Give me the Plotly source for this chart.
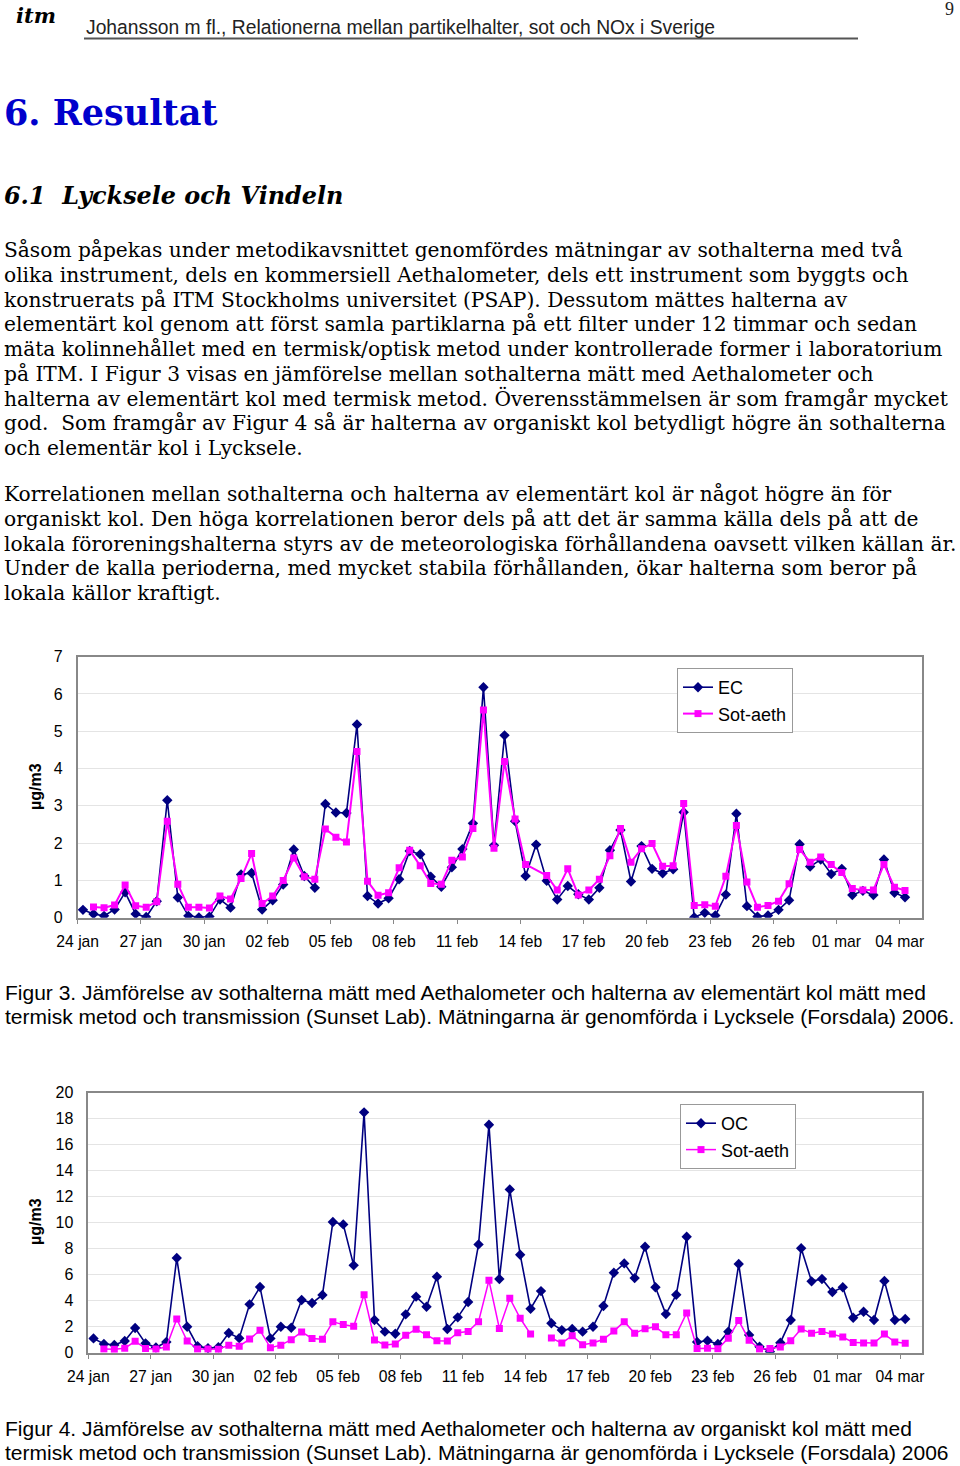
import pandas as pd
import plotly.graph_objects as go

W, H = 960, 1466

# 12-hour samples, 24 jan 06:00 .. 04 mar 06:00 2006
times = pd.date_range("2006-01-24 06:00", periods=79, freq="12h")

ec = [0.21, 0.10, 0.05, 0.22, 0.68, 0.10, 0.02, 0.44, 3.15, 0.54,
      0.05, 0.01, 0.03, 0.49, 0.27, 1.16, 1.20, 0.22, 0.47, 0.89,
      1.83, 1.12, 0.80, 3.05, 2.82, 2.81, 5.18, 0.58, 0.38, 0.52,
      1.03, 1.79, 1.70, 1.10, 0.83, 1.35, 1.84, 2.53, 6.18, 1.94,
      4.89, 2.59, 1.12, 1.96, 0.99, 0.49, 0.85, 0.63, 0.49, 0.80,
      1.81, 2.35, 0.97, 1.92, 1.31, 1.19, 1.30, 2.83, 0.01, 0.13,
      0.06, 0.62, 2.79, 0.31, 0.03, 0.06, 0.21, 0.47, 1.97, 1.37,
      1.56, 1.17, 1.31, 0.61, 0.72, 0.61, 1.56, 0.67, 0.55]

sot_aeth = [None, 0.29, 0.27, 0.34, 0.88, 0.32, 0.28, 0.43, 2.59, 0.90,
            0.28, 0.28, 0.26, 0.58, 0.50, 1.05, 1.72, 0.38, 0.58, 1.00,
            1.60, 1.10, 1.03, 2.38, 2.16, 2.03, 4.46, 0.98, 0.60, 0.67,
            1.34, 1.81, 1.39, 0.92, 0.90, 1.54, 1.63, 2.39, 5.57, 1.86,
            4.19, 2.65, 1.43, None, 1.13, 0.74, 1.31, 0.61, 0.74, 1.03,
            1.66, 2.39, 1.49, 1.85, 1.99, 1.38, 1.39, 3.06, 0.33, 0.35,
            0.31, 1.11, 2.47, 0.96, 0.28, 0.33, 0.44, 0.91, 1.83, 1.49,
            1.63, 1.43, 1.21, 0.78, 0.74, 0.74, 1.43, 0.82, 0.73]

oc = [1.10, 0.67, 0.60, 0.90, 1.90, 0.72, 0.40, 0.82, 7.28, 2.00,
      0.50, 0.35, 0.42, 1.52, 1.12, 3.72, 5.05, 1.10, 2.00, 1.92,
      4.05, 3.82, 4.44, 10.05, 9.87, 6.72, 18.49, 2.51, 1.62, 1.46,
      2.95, 4.31, 3.54, 5.85, 1.82, 2.72, 3.90, 8.33, 17.54, 5.67,
      12.56, 7.54, 3.38, 4.74, 2.26, 1.74, 1.82, 1.62, 2.00, 3.59,
      6.15, 6.87, 5.74, 8.15, 5.03, 2.97, 4.46, 8.92, 0.82, 0.92,
      0.67, 1.62, 6.82, 1.36, 0.46, 0.08, 0.77, 2.51, 8.03, 5.49,
      5.67, 4.67, 5.03, 2.69, 3.15, 2.51, 5.51, 2.51, 2.59]

tick_dates = ["2006-01-24", "2006-01-27", "2006-01-30", "2006-02-02", "2006-02-05",
              "2006-02-08", "2006-02-11", "2006-02-14", "2006-02-17", "2006-02-20",
              "2006-02-23", "2006-02-26", "2006-03-01", "2006-03-04"]
tick_labels = ["24 jan", "27 jan", "30 jan", "02 feb", "05 feb", "08 feb", "11 feb",
               "14 feb", "17 feb", "20 feb", "23 feb", "26 feb", "01 mar", "04 mar"]

para1 = [
    "Såsom påpekas under metodikavsnittet genomfördes mätningar av sothalterna med två",
    "olika instrument, dels en kommersiell Aethalometer, dels ett instrument som byggts och",
    "konstruerats på ITM Stockholms universitet (PSAP). Dessutom mättes halterna av",
    "elementärt kol genom att först samla partiklarna på ett filter under 12 timmar och sedan",
    "mäta kolinnehållet med en termisk/optisk metod under kontrollerade former i laboratorium",
    "på ITM. I Figur 3 visas en jämförelse mellan sothalterna mätt med Aethalometer och",
    "halterna av elementärt kol med termisk metod. Överensstämmelsen är som framgår mycket",
    "god.  Som framgår av Figur 4 så är halterna av organiskt kol betydligt högre än sothalterna",
    "och elementär kol i Lycksele.",
]
para2 = [
    "Korrelationen mellan sothalterna och halterna av elementärt kol är något högre än för",
    "organiskt kol. Den höga korrelationen beror dels på att det är samma källa dels på att de",
    "lokala föroreningshalterna styrs av de meteorologiska förhållandena oavsett vilken källan är.",
    "Under de kalla perioderna, med mycket stabila förhållanden, ökar halterna som beror på",
    "lokala källor kraftigt.",
]
cap3 = [
    "Figur 3. Jämförelse av sothalterna mätt med Aethalometer och halterna av elementärt kol mätt med",
    "termisk metod och transmission (Sunset Lab). Mätningarna är genomförda i Lycksele (Forsdala) 2006.",
]
cap4 = [
    "Figur 4. Jämförelse av sothalterna mätt med Aethalometer och halterna av organiskt kol mätt med",
    "termisk metod och transmission (Sunset Lab). Mätningarna är genomförda i Lycksele (Forsdala) 2006",
]


def px(x):
    return x / W


def py(y):
    return 1 - y / H


NAVY = "#000080"
MAGENTA = "#FF00FF"
SERIF = "DejaVu Serif"
SANS = "Liberation Sans, Arial"

fig = go.Figure()

# Figur 3
fig.add_trace(go.Scatter(
    x=times, y=ec, name="EC", mode="lines+markers",
    line=dict(color=NAVY, width=1.6),
    marker=dict(symbol="diamond", size=8, color=NAVY),
    xaxis="x", yaxis="y", legend="legend",
))
fig.add_trace(go.Scatter(
    x=times, y=sot_aeth, name="Sot-aeth", mode="lines+markers", connectgaps=True,
    line=dict(color=MAGENTA, width=2),
    marker=dict(symbol="square", size=7, color=MAGENTA),
    xaxis="x", yaxis="y", legend="legend",
))

# Figur 4
fig.add_trace(go.Scatter(
    x=times, y=oc, name="OC", mode="lines+markers",
    line=dict(color=NAVY, width=1.6),
    marker=dict(symbol="diamond", size=8, color=NAVY),
    xaxis="x2", yaxis="y2", legend="legend2",
))
fig.add_trace(go.Scatter(
    x=times, y=sot_aeth, name="Sot-aeth", mode="lines+markers", connectgaps=False,
    line=dict(color=MAGENTA, width=1.5),
    marker=dict(symbol="square", size=7, color=MAGENTA),
    xaxis="x2", yaxis="y2", legend="legend2",
))

xcommon = dict(
    type="date", range=["2006-01-24 00:00", "2006-03-05 01:00"],
    tickvals=tick_dates, ticktext=tick_labels,
    ticks="outside", ticklen=5, tickcolor="#888888", ticklabelstandoff=4,
    showline=True, linecolor="#888888", linewidth=1.5, mirror=True,
    showgrid=False, zeroline=False, automargin=False,
    tickfont=dict(family=SANS, size=15.7, color="black"),
)
ycommon = dict(
    showline=True, linecolor="#888888", linewidth=1.5, mirror=True,
    showgrid=True, gridcolor="#E4E4E4", gridwidth=1, zeroline=False,
    ticks="", ticklabelstandoff=10, automargin=False,
    tickfont=dict(family=SANS, size=16, color="black"),
)

leg = dict(
    xanchor="left", yanchor="top", bgcolor="white",
    bordercolor="#999999", borderwidth=1,
    font=dict(family=SANS, size=18, color="black"),
    itemwidth=30, tracegroupgap=0,
)

fig.update_layout(
    width=W, height=H,
    margin=dict(l=0, r=0, t=0, b=0, autoexpand=False),
    paper_bgcolor="white", plot_bgcolor="white",
    showlegend=True,
    xaxis=dict(xcommon, domain=[px(77.7), px(921.7)], anchor="y"),
    yaxis=dict(ycommon, domain=[py(917.7), py(656.7)], range=[0, 7], dtick=1, anchor="x"),
    xaxis2=dict(xcommon, domain=[px(88.3), px(921.7)], anchor="y2"),
    yaxis2=dict(ycommon, domain=[py(1352.7), py(1092.7)], range=[0, 20], dtick=2, anchor="x2"),
    legend=dict(leg, x=px(677), y=py(668)),
    legend2=dict(leg, x=px(680), y=py(1104)),
)

ann = []


def text(x, y, s, size, family, color="black", anchor="left", angle=0):
    ann.append(dict(
        x=px(x), y=py(y), xref="paper", yref="paper", text=s, showarrow=False,
        xanchor=anchor, yanchor="middle", textangle=angle,
        font=dict(family=family, size=size, color=color),
    ))


# page header
text(14, 15, "<b><i>itm</i></b>", 21, SERIF)
text(84, 27, "Johansson m fl., Relationerna mellan partikelhalter, sot och NOx i Sverige", 19.3, SANS, "#222222")
text(956, 9, "9", 18, "Liberation Serif", "#222222", anchor="right")
fig.add_shape(type="line", xref="paper", yref="paper",
              x0=px(84), x1=px(858), y0=py(38.5), y1=py(38.5),
              line=dict(color="#555555", width=2))

# headings
text(2, 113, "<b>6. Resultat</b>", 35, SERIF, "#0000CC")
text(2, 196, "<b><i>6.1  Lycksele och Vindeln</i></b>", 23.9, SERIF)

# body text
for i, line in enumerate(para1):
    text(2, 250 + 24.75 * i, line, 20.2, SERIF)
for i, line in enumerate(para2):
    text(2, 494 + 24.75 * i, line, 20.2, SERIF)

# captions
for i, line in enumerate(cap3):
    text(3, 992 + 24.5 * i, line, 21, SANS)
for i, line in enumerate(cap4):
    text(3, 1428 + 24.5 * i, line, 21, SANS)

# y-axis titles
text(35, 787, "<b>µg/m3</b>", 16, SANS, angle=-90, anchor="center")
text(35, 1222, "<b>µg/m3</b>", 16, SANS, angle=-90, anchor="center")

fig.update_layout(annotations=ann)

fig.write_html("out.html", config={"displayModeBar": False},
               post_script="document.body.style.margin='0';")
